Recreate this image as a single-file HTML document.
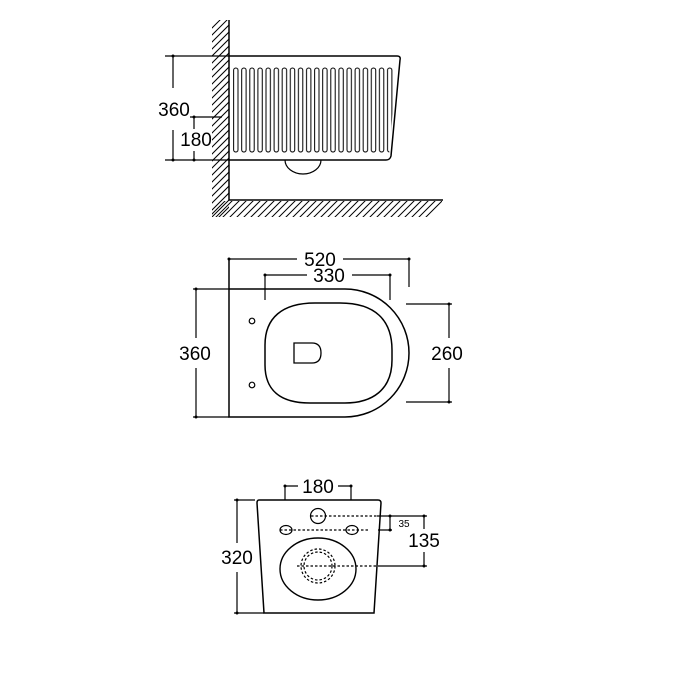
<!DOCTYPE html>
<html><head><style>html,body{margin:0;padding:0;background:#fff}svg{display:block}text{font-family:"Liberation Sans",Arial,sans-serif;fill:#000}</style></head><body>
<svg width="674" height="674" viewBox="0 0 674 674" xmlns="http://www.w3.org/2000/svg">
<defs>
<clipPath id="wc"><rect x="212" y="20" width="17" height="197"/></clipPath>
<clipPath id="fc"><rect x="212" y="201" width="230" height="16"/></clipPath>
<clipPath id="rc"><path d="M230 60 H397 L389 156 H230 Z"/></clipPath>
<pattern id="ribs" x="233" y="0" width="8.1" height="674" patternUnits="userSpaceOnUse">
<rect x="0.6" y="68" width="4.4" height="84" rx="2.2" fill="none" stroke="#000" stroke-width="1"/>
</pattern>
</defs>
<g stroke="#000" fill="none" stroke-width="1.2">
<g clip-path="url(#wc)" stroke-width="1">
<path d="M200 40 L240 0 M200 47 L240 7 M200 54 L240 14 M200 61 L240 21 M200 68 L240 28 M200 75 L240 35 M200 82 L240 42 M200 89 L240 49 M200 96 L240 56 M200 103 L240 63 M200 110 L240 70 M200 117 L240 77 M200 124 L240 84 M200 131 L240 91 M200 138 L240 98 M200 145 L240 105 M200 152 L240 112 M200 159 L240 119 M200 166 L240 126 M200 173 L240 133 M200 180 L240 140 M200 187 L240 147 M200 194 L240 154 M200 201 L240 161 M200 208 L240 168 M200 215 L240 175 M200 222 L240 182 M200 229 L240 189 M200 236 L240 196"/>
</g>
<g clip-path="url(#fc)" stroke-width="1">
<path d="M206 220 L226 200 M213 220 L233 200 M220 220 L240 200 M227 220 L247 200 M234 220 L254 200 M241 220 L261 200 M248 220 L268 200 M255 220 L275 200 M262 220 L282 200 M269 220 L289 200 M276 220 L296 200 M283 220 L303 200 M290 220 L310 200 M297 220 L317 200 M304 220 L324 200 M311 220 L331 200 M318 220 L338 200 M325 220 L345 200 M332 220 L352 200 M339 220 L359 200 M346 220 L366 200 M353 220 L373 200 M360 220 L380 200 M367 220 L387 200 M374 220 L394 200 M381 220 L401 200 M388 220 L408 200 M395 220 L415 200 M402 220 L422 200 M409 220 L429 200 M416 220 L436 200 M423 220 L443 200"/>
</g>
<path d="M229 20 V200 H443" stroke-width="1.5"/>
<path d="M229 56 H397 Q401 56 400 60 L391 156 Q390 160 386 160 H229" stroke-width="1.5"/>
<rect x="232" y="60" width="162" height="96" fill="url(#ribs)" stroke="none" clip-path="url(#rc)"/>
<path d="M285 160 A18 14 0 0 0 321 160"/>
<path d="M165 56 H229 M165 160 H229 M173 56 V88 M173 130 V160 M190 117 H222 M194 117 V129 M194 151 V160"/>
<g fill="#000" stroke="none"><circle cx="173" cy="56" r="1.5"/><circle cx="173" cy="160" r="1.5"/><circle cx="194" cy="117" r="1.5"/><circle cx="194" cy="160" r="1.5"/></g>

<path d="M229 289 H345 A64 64 0 0 1 345 417 H229 Z M229 259 V289" stroke-width="1.5"/>
<path d="M315 303 H340 C375 303 392 320 392 350 V360 C392 390 372 403 345 403 H310 C280 403 265 390 265 365 V345 C265 318 282 303 315 303 Z" stroke-width="1.5"/>
<path d="M294 343 H312 Q321 343 321 353 Q321 363 312 363 H294 Z" stroke-width="1.3"/>
<circle cx="252" cy="321" r="2.8"/><circle cx="252" cy="385" r="2.8"/>
<path d="M229 259 H297 M343 259 H409 V287 M265 275 H307 M352 275 H390 V300 M265 275 V300 M193 289 H229 M193 417 H229 M196 289 V338 M196 368 V417 M406 304 H452 M406 402 H452 M449 304 V338 M449 368 V402"/>
<g fill="#000" stroke="none"><circle cx="229" cy="259" r="1.5"/><circle cx="409" cy="259" r="1.5"/><circle cx="265" cy="275" r="1.5"/><circle cx="390" cy="275" r="1.5"/><circle cx="196" cy="289" r="1.5"/><circle cx="196" cy="417" r="1.5"/><circle cx="449" cy="304" r="1.5"/><circle cx="449" cy="402" r="1.5"/></g>

<path d="M259 500 H378 Q381 500 381 503 L374 613 H264 L257 503 Q257 500 259 500 Z" stroke-width="1.5"/>
<circle cx="318" cy="516" r="7.5"/>
<ellipse cx="286" cy="530" rx="6" ry="4.5"/><ellipse cx="352" cy="530" rx="6" ry="4.5"/>
<ellipse cx="318" cy="569" rx="38" ry="31" stroke-width="1.4"/>
<g stroke-dasharray="2.5 2"><circle cx="318" cy="566" r="17"/><circle cx="318" cy="566" r="14"/>
<path d="M311 516 H377 M280 530 H368 M297 566 H378"/></g>
<path d="M377 516 H427 M378 530 H392 M378 566 H427 M390 516 V530 M424 516 V529 M424 552 V566 M285 486 H298 M338 486 H351 M285 486 V500 M351 486 V500 M234 500 H255 M234 613 H264 M237 500 V543 M237 572 V613"/>
<g fill="#000" stroke="none"><circle cx="390" cy="516" r="1.5"/><circle cx="390" cy="530" r="1.5"/><circle cx="424" cy="516" r="1.5"/><circle cx="424" cy="566" r="1.5"/><circle cx="285" cy="486" r="1.5"/><circle cx="351" cy="486" r="1.5"/><circle cx="237" cy="500" r="1.5"/><circle cx="237" cy="613" r="1.5"/></g>
</g>
<g font-size="19">
<text x="174" y="116" text-anchor="middle">360</text>
<text x="196" y="146" text-anchor="middle">180</text>
<text x="320" y="266" text-anchor="middle">520</text>
<text x="329" y="282" text-anchor="middle">330</text>
<text x="195" y="360" text-anchor="middle">360</text>
<text x="447" y="360" text-anchor="middle">260</text>
<text x="318" y="493" text-anchor="middle">180</text>
<text x="237" y="564" text-anchor="middle">320</text>
<text x="424" y="547" text-anchor="middle">135</text>
</g>
<text x="404" y="527" text-anchor="middle" font-size="10">35</text>
</svg>
</body></html>
